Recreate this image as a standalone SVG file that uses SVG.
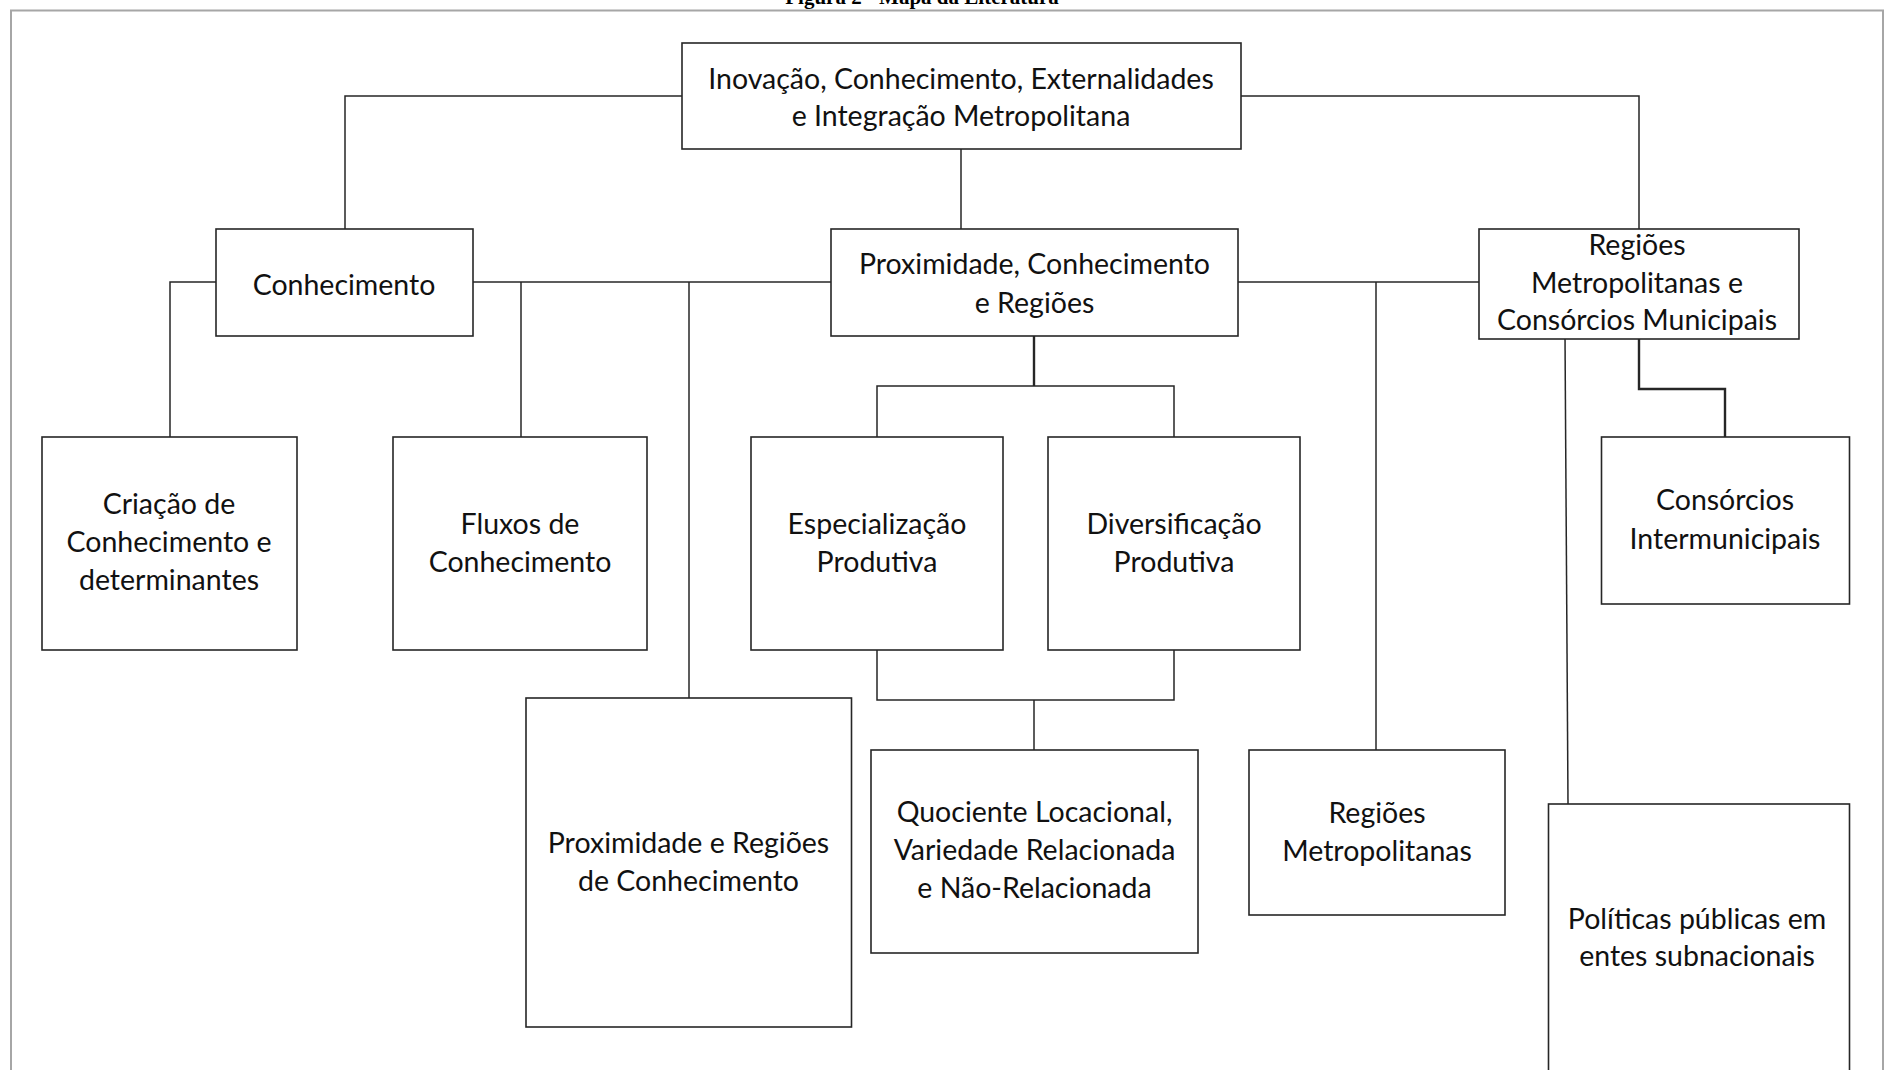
<svg xmlns="http://www.w3.org/2000/svg" width="1885" height="1070" viewBox="0 0 1885 1070">
<style>
  .box { fill: #ffffff; stroke: #262626; stroke-width: 1.6; }
  .lbl { font-family: Lato, "Liberation Sans", "DejaVu Sans", sans-serif; font-size: 28.5px; fill: #111111; text-anchor: middle; }
  .conn path { fill: none; stroke: #262626; stroke-width: 1.5; }
  .conn path.thick { stroke-width: 2.4; }
  .title { font-family: "Liberation Serif", "Times New Roman", serif; font-weight: bold; font-size: 21px; fill: #000; text-anchor: middle; }
</style>
<rect x="0" y="0" width="1885" height="1070" fill="#ffffff"/>
<text class="title" x="922" y="4">Figura 2 - Mapa da Literatura</text>
<rect x="11" y="10.5" width="1872" height="1100" fill="none" stroke="#a6a6a6" stroke-width="2"/>

<g id="connectors" class="conn">
  <path d="M682,96 H345 V229"/>
  <path d="M1241,96 H1639 V229"/>
  <path d="M961,149 V229"/>
  <path d="M216,282 H170 V437"/>
  <path d="M473,282 H831"/>
  <path d="M521,282 V437"/>
  <path d="M689,282 V698"/>
  <path class="thick" d="M1034,336 V386"/>
  <path d="M877,437 V386 H1174 V437"/>
  <path d="M877,650 V700 H1174 V650"/>
  <path d="M1034,700 V750"/>
  <path d="M1238,282 H1479"/>
  <path d="M1376,282 V750"/>
  <path d="M1565,336 L1568,804"/>
  <path class="thick" d="M1639,339 V389 H1725 V437"/>
</g>

<g id="n-top">
  <rect class="box" x="682" y="43" width="559" height="106"/>
  <text class="lbl" x="961" y="89">Inovação, Conhecimento, Externalidades</text>
  <text class="lbl" x="961" y="126">e Integração Metropolitana</text>
</g>
<g id="n-conhecimento">
  <rect class="box" x="216" y="229" width="257" height="107"/>
  <text class="lbl" x="344" y="295">Conhecimento</text>
</g>
<g id="n-proximidade">
  <rect class="box" x="831" y="229" width="407" height="107"/>
  <text class="lbl" x="1034.5" y="274">Proximidade, Conhecimento</text>
  <text class="lbl" x="1034.5" y="312.5">e Regiões</text>
</g>
<g id="n-regioes-consorcios">
  <rect class="box" x="1479" y="229" width="320" height="110"/>
  <text class="lbl" x="1637" y="254.5">Regiões</text>
  <text class="lbl" x="1637" y="293">Metropolitanas e</text>
  <text class="lbl" x="1637" y="329.5">Consórcios Municipais</text>
</g>
<g id="n-criacao">
  <rect class="box" x="42" y="437" width="255" height="213"/>
  <text class="lbl" x="169" y="514">Criação de</text>
  <text class="lbl" x="169" y="552">Conhecimento e</text>
  <text class="lbl" x="169" y="590">determinantes</text>
</g>
<g id="n-fluxos">
  <rect class="box" x="393" y="437" width="254" height="213"/>
  <text class="lbl" x="520" y="534">Fluxos de</text>
  <text class="lbl" x="520" y="572">Conhecimento</text>
</g>
<g id="n-especializacao">
  <rect class="box" x="751" y="437" width="252" height="213"/>
  <text class="lbl" x="877" y="534">Especialização</text>
  <text class="lbl" x="877" y="572">Produtiva</text>
</g>
<g id="n-diversificacao">
  <rect class="box" x="1048" y="437" width="252" height="213"/>
  <text class="lbl" x="1174" y="534">Diversificação</text>
  <text class="lbl" x="1174" y="572">Produtiva</text>
</g>
<g id="n-consorcios">
  <rect class="box" x="1601.5" y="437" width="248" height="167"/>
  <text class="lbl" x="1725" y="510">Consórcios</text>
  <text class="lbl" x="1725" y="549">Intermunicipais</text>
</g>
<g id="n-prox-regioes">
  <rect class="box" x="526" y="698" width="325.5" height="329"/>
  <text class="lbl" x="688.5" y="853">Proximidade e Regiões</text>
  <text class="lbl" x="688.5" y="891">de Conhecimento</text>
</g>
<g id="n-quociente">
  <rect class="box" x="871" y="750" width="327" height="203"/>
  <text class="lbl" x="1034.5" y="822">Quociente Locacional,</text>
  <text class="lbl" x="1034.5" y="860">Variedade Relacionada</text>
  <text class="lbl" x="1034.5" y="898">e Não-Relacionada</text>
</g>
<g id="n-regioes-metropolitanas">
  <rect class="box" x="1249" y="750" width="256" height="165"/>
  <text class="lbl" x="1377" y="823">Regiões</text>
  <text class="lbl" x="1377" y="861">Metropolitanas</text>
</g>
<g id="n-politicas">
  <rect class="box" x="1548.5" y="804" width="301" height="300"/>
  <text class="lbl" x="1697" y="929">Políticas públicas em</text>
  <text class="lbl" x="1697" y="966">entes subnacionais</text>
</g>
</svg>
